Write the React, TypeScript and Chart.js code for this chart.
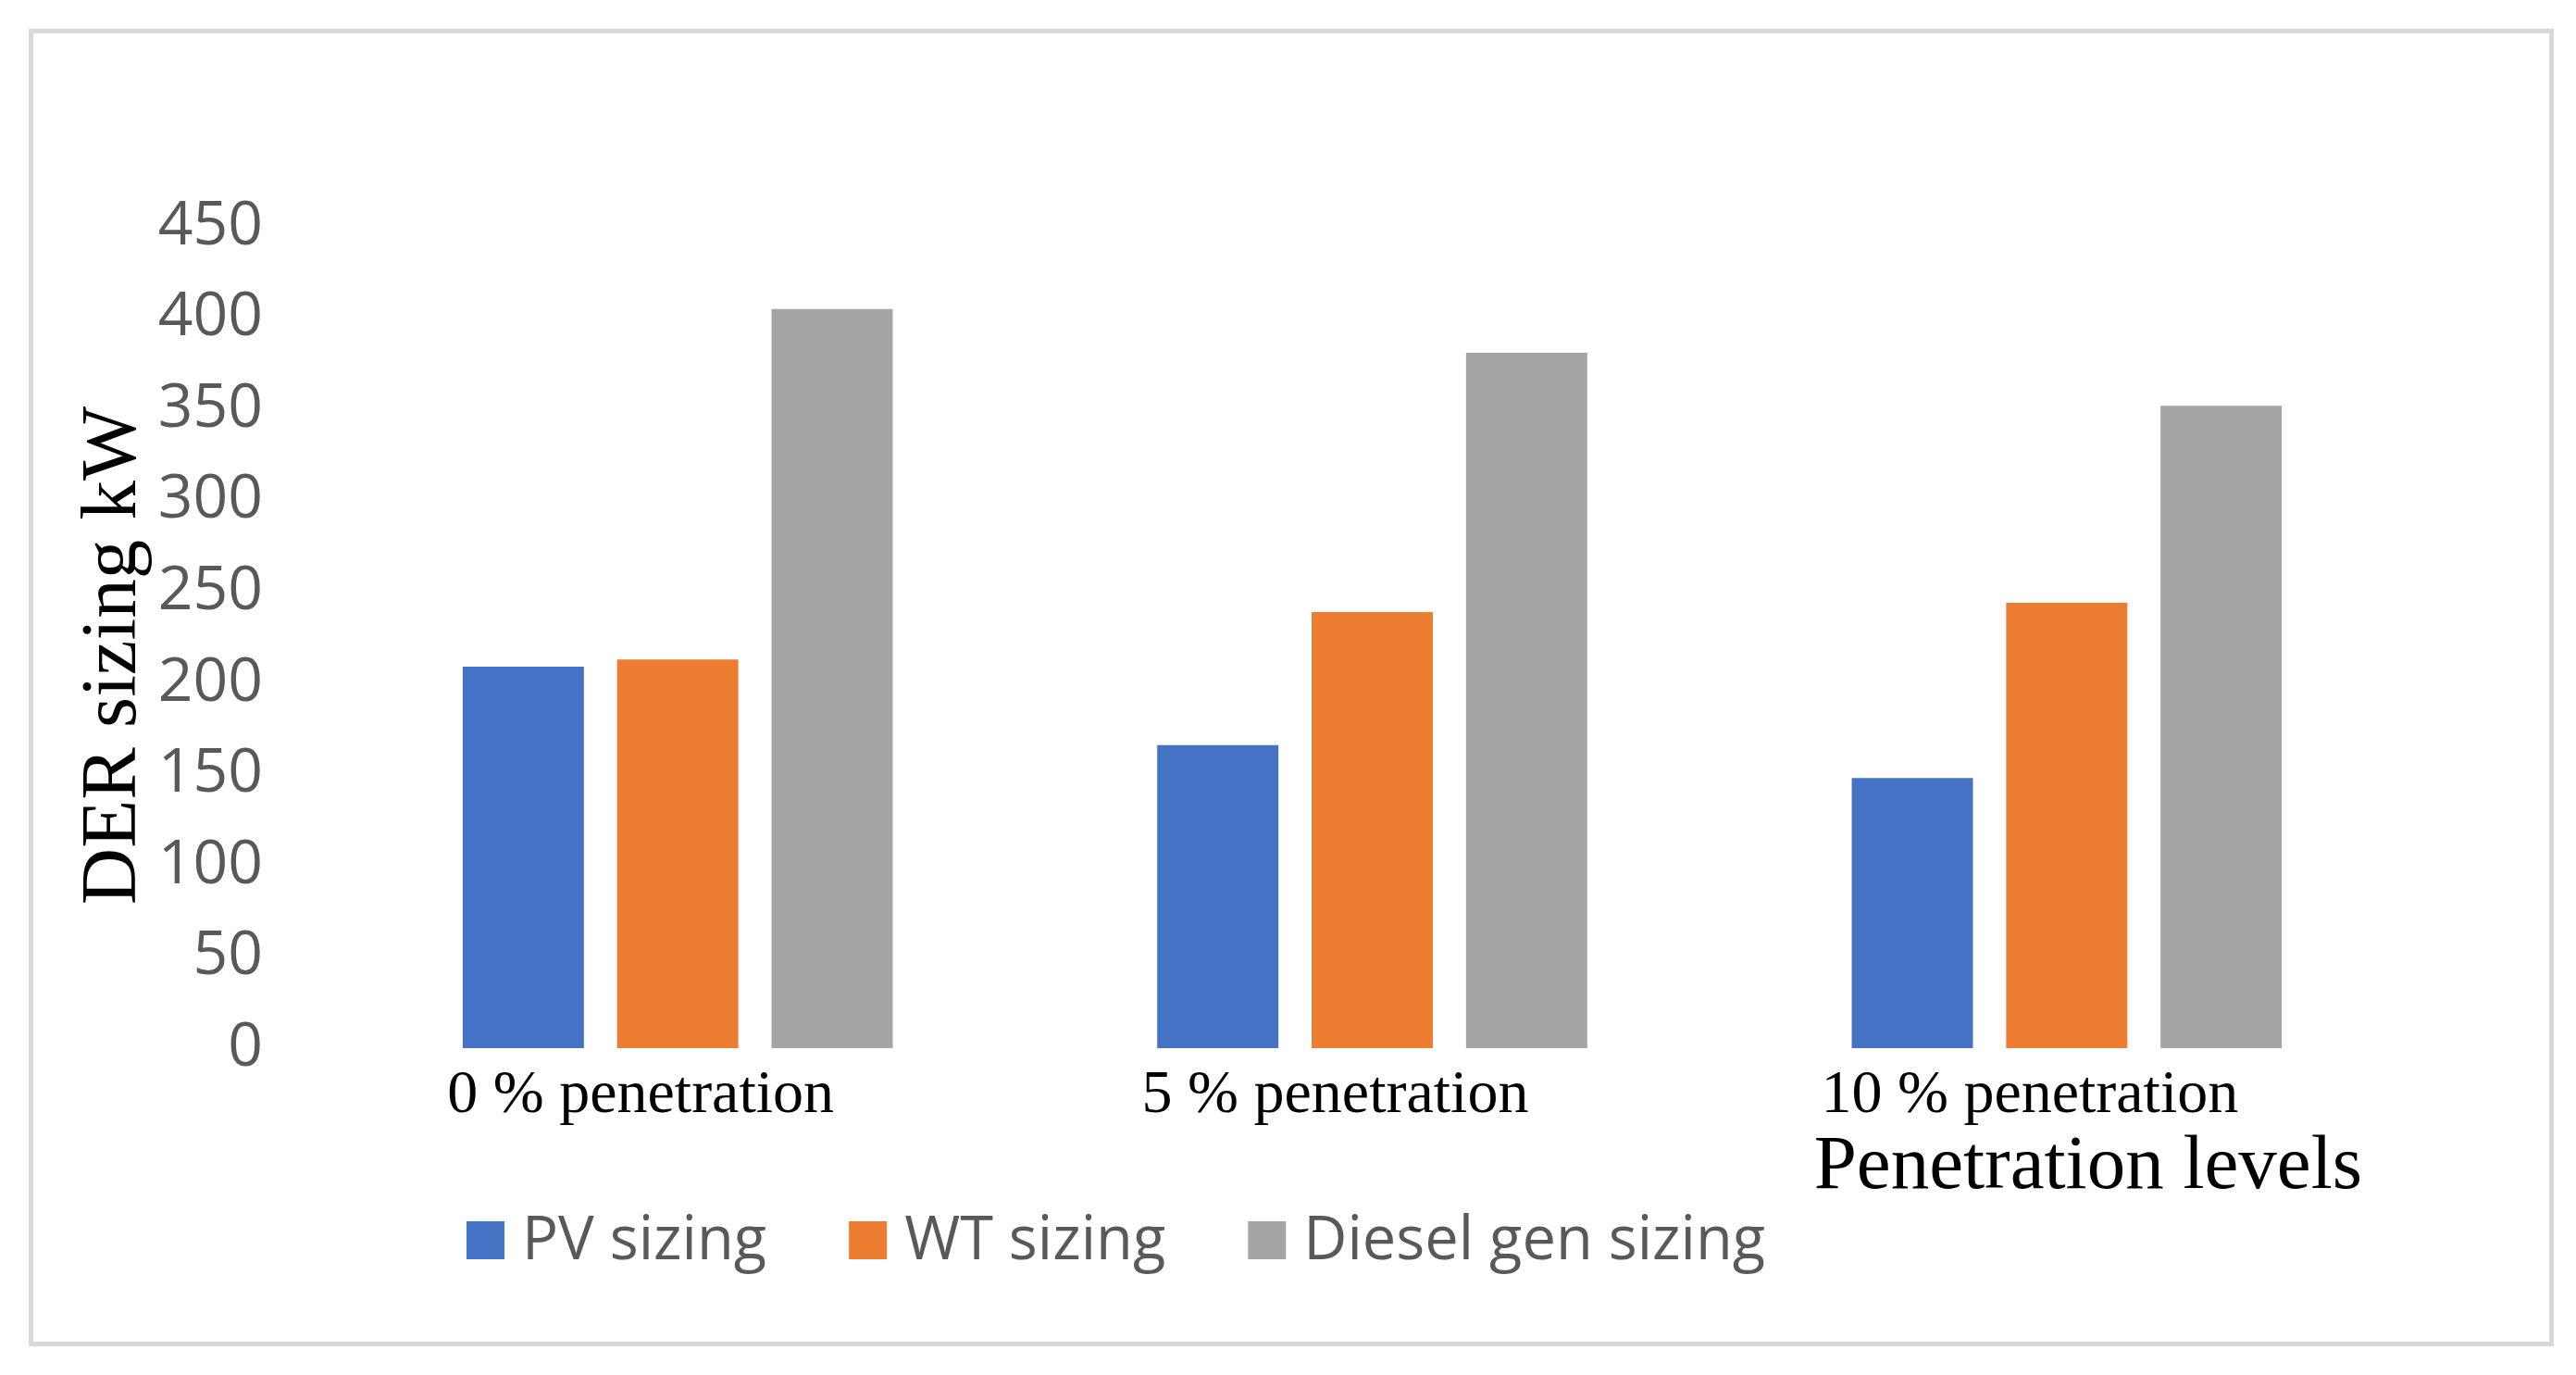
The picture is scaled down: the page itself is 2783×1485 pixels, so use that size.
import React, { useEffect, useRef } from "react";
import { Chart, registerables } from "chart.js";

Chart.register(...registerables);

// ---- data ----
const categories = ["0 % penetration", "5 % penetration", "10 % penetration"];
const seriesNames = ["PV sizing", "WT sizing", "Diesel gen sizing"];
const pvSizing = [209, 166, 148];
const wtSizing = [213, 239, 244];
const dieselSizing = [405, 381, 352];
const seriesColors = ["#4472C4", "#ED7D31", "#A5A5A5"];
const yMin = 0;
const yMax = 450;
const yStep = 50;
const yTitle = "DER sizing kW";
const xTitle = "Penetration levels";

const overlayPlugin = {
  id: "overlay",
  afterDraw(chart: any) {
    const { ctx, chartArea } = chart;
    ctx.save();
    // y axis title (rotated)
    ctx.save();
    ctx.fillStyle = "#000000";
    ctx.font = "85px 'Liberation Serif'";
    ctx.textAlign = "center";
    ctx.textBaseline = "middle";
    ctx.translate(124, 708);
    ctx.rotate(-Math.PI / 2);
    ctx.fillText(yTitle, 0, 0);
    ctx.restore();
    // x axis title
    ctx.fillStyle = "#000000";
    ctx.font = "83px 'Liberation Serif'";
    ctx.textAlign = "right";
    ctx.textBaseline = "alphabetic";
    ctx.fillText(xTitle, chartArea.right - 56, 1283);
    // legend
    ctx.font = "65px 'Open Sans'";
    ctx.textAlign = "left";
    let x = chartArea.left + 147;
    chart.data.datasets.forEach((ds: any) => {
      ctx.fillStyle = ds.backgroundColor;
      ctx.fillRect(x, 1319, 41, 41);
      x += 60;
      ctx.fillStyle = "#595959";
      ctx.fillText(ds.label, x, 1360);
      x += ctx.measureText(ds.label).width + 89;
    });
    ctx.restore();
  },
};

export default function App() {
  const ref = useRef<HTMLCanvasElement>(null);

  useEffect(() => {
    const values = [pvSizing, wtSizing, dieselSizing];
    const chart = new Chart(ref.current as HTMLCanvasElement, {
      type: "bar",
      data: {
        labels: categories,
        datasets: seriesNames.map((name, i) => ({
          label: name,
          data: values[i],
          backgroundColor: seriesColors[i],
          borderWidth: 0,
          categoryPercentage: 0.667,
          barPercentage: 0.785,
        })),
      },
      options: {
        animation: false,
        responsive: false,
        devicePixelRatio: 1,
        layout: { padding: { left: 0, right: 175, top: 245, bottom: 0 } },
        plugins: {
          legend: { display: false },
          tooltip: { enabled: false },
        },
        scales: {
          x: {
            grid: { display: false, drawTicks: false },
            border: { display: false },
            ticks: {
              font: { family: "'Liberation Serif'", size: 66 },
              color: "#000000",
              padding: 12,
              labelOffset: -40,
              maxRotation: 0,
              autoSkip: false,
            },
            afterFit: (scale: any) => {
              scale.height = 353;
            },
          },
          y: {
            min: yMin,
            max: yMax,
            grid: { display: false, drawTicks: false },
            border: { display: false },
            ticks: {
              stepSize: yStep,
              font: { family: "'Open Sans'", size: 66 },
              color: "#595959",
              padding: 73,
            },
            afterFit: (scale: any) => {
              scale.width = 357;
            },
          },
        },
      },
      plugins: [overlayPlugin],
    });
    return () => chart.destroy();
  }, []);

  return (
    <div
      style={{
        position: "absolute",
        left: 0,
        top: 0,
        width: 2783,
        height: 1485,
        background: "#ffffff",
        overflow: "hidden",
      }}
    >
      <div
        style={{
          position: "absolute",
          left: 31,
          top: 31,
          width: 2728,
          height: 1423,
          border: "5px solid #d9d9d9",
          boxSizing: "border-box",
        }}
      />
      <canvas
        ref={ref}
        width={2783}
        height={1485}
        style={{ position: "absolute", left: 0, top: 0, width: 2783, height: 1485 }}
      />
    </div>
  );
}
